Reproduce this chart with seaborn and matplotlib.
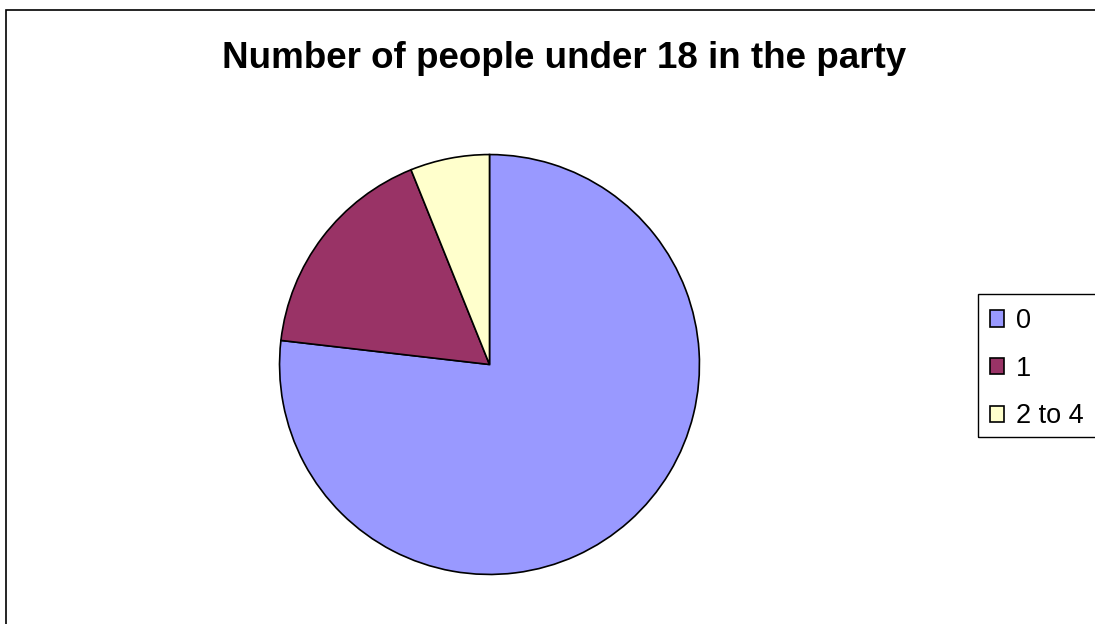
import matplotlib
matplotlib.use("Agg")
import matplotlib.pyplot as plt
from matplotlib.patches import Patch, Rectangle
import seaborn as sns

categories = ["0", "1", "2 to 4"]
counts = [63, 14, 5]
colors = ["#9999FF", "#993366", "#FFFFCC"]
title = "Number of people under 18 in the party"

sns.set_theme(style="white")
plt.rcParams['font.family'] = ['Liberation Sans', 'DejaVu Sans']
plt.rcParams['text.color'] = 'black'

W, H = 1095, 624
fig = plt.figure(figsize=(W / 100, H / 100), dpi=100)
fig.patch.set_facecolor("white")

# outer chart border (left and top visible, rest beyond canvas)
fig.patches.append(Rectangle((6 / W, -0.1), 1.2, (H - 10) / H + 0.1, transform=fig.transFigure,
                             fill=False, edgecolor="black", linewidth=1.2, zorder=0))

cx, cy, r = 489.5, 364.5, 211
ax = fig.add_axes([(cx - r) / W, (H - cy - r) / H, 2 * r / W, 2 * r / H])
ax.pie(counts, colors=colors, startangle=90, counterclock=False, radius=1,
       wedgeprops=dict(edgecolor="black", linewidth=1.2))
ax.set_xlim(-1.005, 1.005)
ax.set_ylim(-1.005, 1.005)
ax.set_aspect("equal")
ax.axis("off")

fig.text(564 / W, (H - 58.5) / H, title, ha="center", va="center",
         fontsize=26.5, fontweight="bold", color="black")

# legend box
fig.patches.append(Rectangle((978 / W, (H - 437) / H), 0.2, 143 / H, transform=fig.transFigure,
                             fill=False, edgecolor="black", linewidth=1.0, zorder=1))
handles = [Patch(facecolor=c, edgecolor="black", linewidth=1.2, label=l) for c, l in zip(colors, categories)]
leg = fig.legend(handles=handles, loc="upper left", bbox_to_anchor=(989.5 / W, (H - 308) / H),
                 frameon=False, fontsize=19.5, handlelength=0.55, handleheight=0.55,
                 handletextpad=0.42, labelspacing=0.8, borderpad=0, borderaxespad=0)
for t in leg.get_texts():
    t.set_color("black")

fig.savefig("out.png", dpi=100, facecolor="white")
